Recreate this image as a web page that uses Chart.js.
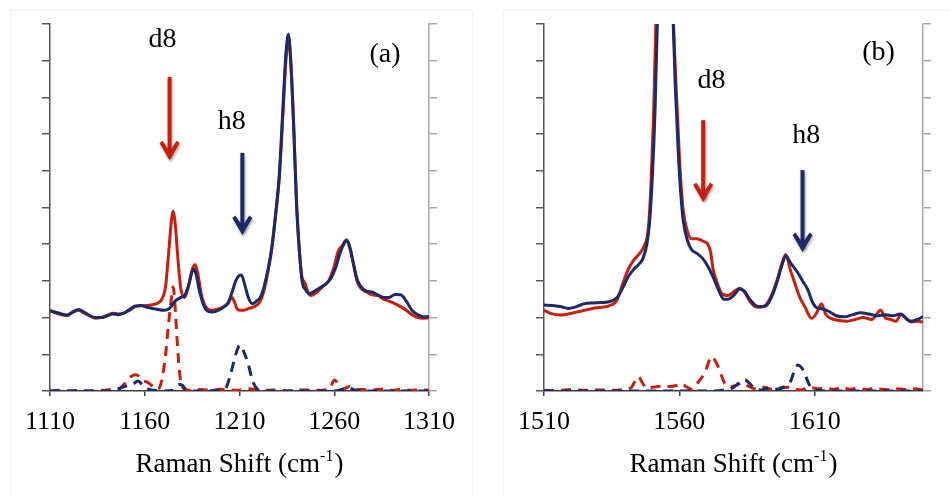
<!DOCTYPE html>
<html>
<head>
<meta charset="utf-8">
<script src="https://cdn.jsdelivr.net/npm/chart.js@4/dist/chart.umd.min.js"></script>
<style>
  html, body { margin:0; padding:0; background:#fff; }
  body { width:951px; height:496px; position:relative; overflow:hidden; }
  .panel { position:absolute; top:0; height:496px; }
  #pa { left:0; width:475px; }
  #pb { left:475px; width:476px; }
  .frame { position:absolute; border:1px solid #f1f1f1; }
</style>
</head>
<body>
<div class="frame" style="left:10px;top:10px;width:461px;height:500px;"></div>
<div class="frame" style="left:503px;top:10px;width:460px;height:500px;"></div>
<div class="panel" id="pa"><canvas id="ca" width="475" height="496"></canvas></div>
<div class="panel" id="pb"><canvas id="cb" width="476" height="496"></canvas></div>
<script>
// ---------- Panel (a) data ----------
const aRedX = [1110,1113,1116,1119,1122,1125,1128,1131,1134,1137,1140,1143,1146,1149,1152,1155,1158,1161,1164,1167,1169,1171,1172.5,1174,1175,1176,1177.5,1179,1181,1183,1185,1186.5,1188,1190,1192,1195,1198,1201,1204,1206,1207.5,1209,1212,1215,1218,1221,1223,1225,1227,1229,1231,1233,1234.5,1236,1237.3,1238.8,1240.2,1241.6,1243,1244.5,1246,1248,1251,1254,1257,1260,1262,1264,1266.6,1268,1270,1272,1274,1277,1280,1283,1286,1289,1292,1295,1298,1301,1304,1307,1310];
const aRedY = [2.2,2.12,2.08,2.05,2.15,2.2,2.12,2.05,1.98,2.0,2.05,2.12,2.1,2.12,2.2,2.3,2.32,2.33,2.35,2.4,2.5,2.85,3.7,4.6,4.9,4.6,3.6,2.8,2.55,2.85,3.3,3.45,3.2,2.6,2.3,2.2,2.22,2.28,2.4,2.55,2.4,2.22,2.2,2.25,2.3,2.45,2.75,3.25,3.85,4.75,5.8,7.6,9.0,9.55,8.8,7.0,5.0,3.8,3.1,2.95,2.7,2.6,2.7,2.85,3.0,3.4,3.8,3.95,4.12,3.95,3.5,3.0,2.8,2.7,2.62,2.6,2.5,2.45,2.38,2.3,2.2,2.08,2.0,1.98,2.0];

const aBlueX = [1110,1113,1116,1119,1122,1125,1128,1131,1134,1137,1140,1143,1146,1149,1152,1155,1158,1161,1164,1167,1170,1173,1176,1179,1181,1183,1185,1186,1187,1189,1191,1193,1196,1199,1202,1204,1206,1208,1210,1211,1213,1215,1217,1219,1221,1223,1225,1227,1229,1231,1233,1234.5,1235.8,1237,1238.5,1240,1241.5,1243,1245,1247,1249,1252,1255,1258,1261,1263,1265,1266.6,1268,1270,1272,1274,1277,1280,1283,1286,1289,1292,1295,1298,1301,1304,1307,1310];
const aBlueY = [2.18,2.15,2.1,2.07,2.15,2.22,2.15,2.05,2.0,2.0,2.05,2.1,2.08,2.12,2.22,2.32,2.33,2.28,2.25,2.22,2.2,2.25,2.45,2.55,2.6,2.85,3.25,3.32,3.2,2.7,2.35,2.18,2.15,2.2,2.3,2.4,2.68,3.0,3.15,3.16,2.85,2.5,2.38,2.45,2.55,2.85,3.3,3.9,4.8,5.9,7.8,9.2,9.72,9.0,7.3,5.2,3.9,3.0,2.75,2.65,2.7,2.8,2.9,3.05,3.4,3.75,4.0,4.1,3.95,3.5,3.05,2.85,2.72,2.7,2.62,2.55,2.55,2.63,2.62,2.45,2.2,2.08,2.02,2.03];

const aRedDashX = [1110,1115,1120,1125,1130,1135,1140,1145,1148,1151,1153,1155,1157,1159,1161,1163,1165,1167,1169,1171,1172.5,1174,1175,1176,1177.3,1178.6,1180,1182,1185,1190,1195,1200,1205,1210,1215,1220,1225,1230,1235,1240,1245,1250,1255,1258,1260,1262,1264,1266,1268,1270,1275,1280,1285,1290,1295,1300,1305,1310];
const aRedDashY = [0.0,0.02,0.0,0.02,0.0,0.01,0.03,0.05,0.12,0.3,0.4,0.44,0.4,0.28,0.25,0.18,0.08,0.05,0.3,1.0,1.8,2.5,2.84,2.3,1.2,0.4,0.1,0.03,0.02,0.04,0.02,0.05,0.03,0.02,0.06,0.03,0.02,0.03,0.0,0.02,0.03,0.02,0.03,0.1,0.3,0.2,0.05,0.08,0.12,0.05,0.04,0.03,0.05,0.02,0.04,0.02,0.03,0.02];

const aBlueDashX = [1110,1120,1130,1140,1145,1148,1151,1154,1156.5,1159,1162,1165,1170,1175,1178,1180,1182,1185,1190,1195,1200,1203,1205,1207,1209,1210.3,1212,1214.5,1216.5,1218,1220,1225,1230,1240,1250,1260,1265,1268,1271,1280,1290,1300,1310];
const aBlueDashY = [0,0,0,0,0.02,0.1,0.15,0.2,0.27,0.15,0.05,0.02,0.0,0.02,0.18,0.15,0.02,0,0,0.01,0.02,0.1,0.4,0.8,1.15,1.25,1.1,0.75,0.35,0.15,0.03,0,0,0,0,0,0.05,0.08,0.02,0,0,0,0];

// ---------- Panel (b) data ----------
const bRedX = [1510,1513,1516,1519,1522,1525,1528,1531,1534,1537,1539,1541,1543,1545,1547,1548.5,1549.5,1550.5,1551.5,1552.5,1554,1555.5,1557,1558.5,1560,1561.3,1562.8,1564.5,1566.5,1568.8,1570.5,1571.5,1572.5,1573.7,1575.6,1578,1580,1582.3,1584,1586,1588,1590,1592,1594,1596,1598,1599.3,1601,1602.6,1604.5,1606.3,1608.8,1610.5,1612.5,1614,1616,1619,1622,1625,1628,1631,1634.4,1636,1638,1640,1642,1644,1646,1648,1650];
const bRedY = [2.2,2.1,2.07,2.1,2.15,2.2,2.25,2.28,2.32,2.48,2.9,3.3,3.55,3.72,3.95,4.4,5.6,7.6,10.6,14,18,15,11.5,8.8,6.4,5.0,4.4,4.15,4.15,4.08,4.0,3.8,3.3,3.0,2.66,2.6,2.7,2.8,2.7,2.45,2.3,2.28,2.35,2.6,3.0,3.5,3.72,3.3,2.95,2.55,2.3,1.98,2.1,2.38,2.1,1.98,1.92,1.9,1.95,2.0,1.95,2.2,2.0,1.95,1.9,2.1,1.95,1.88,1.9,1.88];

const bBlueX = [1510,1513,1516,1519,1522,1525,1528,1531,1534,1537,1539,1541,1543,1545,1546.5,1548,1549,1550,1551,1552,1553,1554.5,1556,1557.3,1558.5,1559.6,1560.5,1561.5,1563,1564.5,1566.5,1568.5,1570.5,1572.5,1574.5,1576.5,1578,1580,1582.3,1584,1586,1588,1590,1592,1594,1596,1598,1599.3,1601,1603.5,1605.5,1607.5,1609,1610.5,1612,1615,1618,1621,1624,1627,1630,1633,1636,1639,1641.5,1643.5,1645.5,1648,1650];
const bBlueY = [2.34,2.33,2.3,2.25,2.3,2.38,2.4,2.41,2.43,2.55,2.8,3.1,3.3,3.45,3.6,4.0,4.6,5.8,7.6,10.4,14,18,15,11,8.3,6.5,5.4,4.6,4.1,3.85,3.75,3.62,3.4,3.1,2.75,2.5,2.5,2.6,2.78,2.72,2.5,2.34,2.3,2.32,2.55,2.95,3.45,3.68,3.5,3.25,3.0,2.75,2.45,2.28,2.25,2.18,2.05,2.02,2.08,2.13,2.1,2.05,2.08,2.05,2.1,2.0,1.9,1.95,2.03];

const bRedDashX = [1510,1515,1520,1525,1530,1535,1540,1542.3,1544.8,1546.5,1548,1550,1553,1556,1559,1560.8,1562.5,1564.4,1566.5,1569.4,1571.9,1574.3,1576.8,1579,1581,1583,1585,1587,1589,1591,1594,1597,1600,1602,1605,1608,1611,1614,1617,1620,1623,1626,1629,1632,1635,1638,1641,1644,1647,1650];
const bRedDashY = [0.02,0.01,0.04,0.02,0.03,0.02,0.05,0.1,0.39,0.2,0.08,0.1,0.13,0.12,0.15,0.2,0.12,0.05,0.2,0.5,0.93,0.67,0.2,0.12,0.15,0.22,0.15,0.08,0.05,0.1,0.05,0.08,0.1,0.05,0.03,0.1,0.06,0.08,0.04,0.1,0.05,0.08,0.04,0.07,0.05,0.03,0.06,0.04,0.06,0.03];

const bBlueDashX = [1510,1520,1530,1540,1550,1560,1570,1576,1580,1582,1584.2,1586,1588,1590,1593,1596,1599,1601,1602.5,1603.8,1605,1606.3,1607.5,1608.8,1611,1615,1620,1630,1640,1650];
const bBlueDashY = [0,0,0,0,0,0,0,0.02,0.1,0.22,0.3,0.2,0.05,0.03,0.08,0.05,0.12,0.25,0.55,0.71,0.65,0.48,0.25,0.08,0.02,0,0,0,0,0];

// ---------- axes / tick labels ----------
const aXRange = [1110, 1310];
const bXRange = [1510, 1650];
const aXTicks = [1110, 1160, 1210, 1260, 1310];
const bXTicks = [1510, 1560, 1610];
const yRange = [0, 10];
const yTickStep = 1;
const xTitle = ['Raman Shift (cm', '-1', ')'];

// ---------- annotations (data coordinates) ----------
const aLabels = [
  {text:'d8', x:1169.4, y:9.38},
  {text:'h8', x:1205.9, y:7.14},
  {text:'(a)', x:1286.8, y:8.96}
];
const aArrows = [
  {color:'red', x:1173.1, from:8.56, to:6.29},
  {color:'blue', x:1211.5, from:6.49, to:4.25}
];
const bLabels = [
  {text:'d8', x:1571.9, y:8.26},
  {text:'h8', x:1606.9, y:6.76},
  {text:'(b)', x:1633.6, y:9.02}
];
const bArrows = [
  {color:'red', x:1568.8, from:7.38, to:5.15},
  {color:'blue', x:1605.5, from:6.02, to:3.79}
];

const RED = '#C8200E';
const BLUE = '#1B2A68';
const COLORS = {red: RED, blue: BLUE};
const SERIF = '"Liberation Serif", "DejaVu Serif", serif';

function pts(xs, ys) { return xs.map((x, i) => ({x: x, y: ys[i]})); }

const annotPlugin = {
  id: 'annot',
  afterDatasetsDraw(chart, args, opts) {
    const ctx = chart.ctx;
    const xs = chart.scales.x, ys = chart.scales.y;
    ctx.save();
    opts.arrows.forEach(a => {
      const px = xs.getPixelForValue(a.x);
      const top = ys.getPixelForValue(a.from);
      const tip = ys.getPixelForValue(a.to);
      ctx.save();
      ctx.shadowColor = 'rgba(0,0,0,0.35)';
      ctx.shadowBlur = 3;
      ctx.shadowOffsetX = 1;
      ctx.shadowOffsetY = 2;
      ctx.strokeStyle = COLORS[a.color];
      ctx.fillStyle = COLORS[a.color];
      ctx.lineWidth = 4;
      ctx.lineCap = 'butt';
      ctx.beginPath();
      ctx.moveTo(px, top);
      ctx.lineTo(px, tip - 4);
      ctx.stroke();
      ctx.beginPath();
      ctx.moveTo(px, tip);
      ctx.lineTo(px + 10, tip - 17);
      ctx.lineTo(px + 7, tip - 19.5);
      ctx.lineTo(px, tip - 9);
      ctx.lineTo(px - 7, tip - 19.5);
      ctx.lineTo(px - 10, tip - 17);
      ctx.closePath();
      ctx.fill();
      ctx.restore();
    });
    ctx.fillStyle = '#000';
    ctx.font = '28px ' + SERIF;
    ctx.textAlign = 'center';
    ctx.textBaseline = 'alphabetic';
    opts.labels.forEach(l => {
      ctx.fillText(l.text, xs.getPixelForValue(l.x), ys.getPixelForValue(l.y));
    });
    ctx.restore();
  },
  afterDraw(chart) {
    const ctx = chart.ctx;
    const ca = chart.chartArea;
    ctx.save();
    ctx.fillStyle = '#000';
    ctx.textBaseline = 'alphabetic';
    ctx.textAlign = 'left';
    const big = '27px ' + SERIF, small = '16px ' + SERIF;
    ctx.font = big; const w1 = ctx.measureText(xTitle[0]).width;
    const w3 = ctx.measureText(xTitle[2]).width;
    ctx.font = small; const w2 = ctx.measureText(xTitle[1]).width;
    const total = w1 + w2 + w3 + 1;
    let x = (ca.left + ca.right) / 2 - total / 2;
    const base = chart.scales.x.bottom - 24;
    ctx.font = big; ctx.fillText(xTitle[0], x, base); x += w1;
    ctx.font = small; ctx.fillText(xTitle[1], x, base - 11); x += w2 + 1;
    ctx.font = big; ctx.fillText(xTitle[2], x, base);
    ctx.restore();
  }
};

function makeChart(id, xr, xTicks, series, leftW, rightW, labels, arrows) {
  const [redX, redY, blueX, blueY, rdX, rdY, bdX, bdY] = series;
  const common = {pointRadius:0, borderWidth:3, fill:false, cubicInterpolationMode:'monotone'};
  new Chart(document.getElementById(id), {
    type: 'line',
    data: {
      datasets: [
        Object.assign({label:'blue', data:pts(blueX, blueY), borderColor:BLUE, order:1}, common),
        Object.assign({label:'red', data:pts(redX, redY), borderColor:RED, order:2}, common),
        Object.assign({label:'blue dashed', data:pts(bdX, bdY), borderColor:BLUE, borderDash:[10,7], order:3}, common),
        Object.assign({label:'red dashed', data:pts(rdX, rdY), borderColor:RED, borderDash:[10,7], order:4}, common)
      ]
    },
    options: {
      responsive: false,
      animation: false,
      events: [],
      layout: {padding: {top:24, left:0, right:0, bottom:0}},
      plugins: {legend:{display:false}, tooltip:{enabled:false}, annot:{labels:labels, arrows:arrows}},
      scales: {
        x: {
          type:'linear', position:'bottom', min:xr[0], max:xr[1],
          afterFit: s => { s.height = 105; },
          afterBuildTicks: s => { s.ticks = xTicks.map(v => ({value: v})); },
          grid: {drawOnChartArea:false, drawTicks:true, tickLength:5, color:'#404040', lineWidth:1.5},
          border: {color:'#404040', width:1.5},
          ticks: {autoSkip:false, maxRotation:0, padding:11, color:'#000', font:{family:SERIF, size:26},
                  callback: v => String(v)}
        },
        y: {
          position:'left', min:yRange[0], max:yRange[1],
          afterFit: s => { s.width = leftW; },
          grid: {drawOnChartArea:false, drawTicks:true, tickLength:8, color:'#555', lineWidth:1.5},
          border: {color:'#555', width:1.5},
          ticks: {stepSize:yTickStep, color:'rgba(0,0,0,0)', font:{size:8}}
        },
        y2: {
          position:'right', min:yRange[0], max:yRange[1],
          afterFit: s => { s.width = rightW; },
          grid: {drawOnChartArea:false, drawTicks:true, tickLength:8, color:'#a8a8a8', lineWidth:1.5},
          border: {color:'#a8a8a8', width:1.5},
          ticks: {stepSize:yTickStep, color:'rgba(0,0,0,0)', font:{size:8}}
        }
      }
    },
    plugins: [annotPlugin]
  });
}

makeChart('ca', aXRange, aXTicks, [aRedX, aRedY, aBlueX, aBlueY, aRedDashX, aRedDashY, aBlueDashX, aBlueDashY], 50, 46, aLabels, aArrows);
makeChart('cb', bXRange, bXTicks, [bRedX, bRedY, bBlueX, bBlueY, bRedDashX, bRedDashY, bBlueDashX, bBlueDashY], 69, 28, bLabels, bArrows);
</script>
</body>
</html>
